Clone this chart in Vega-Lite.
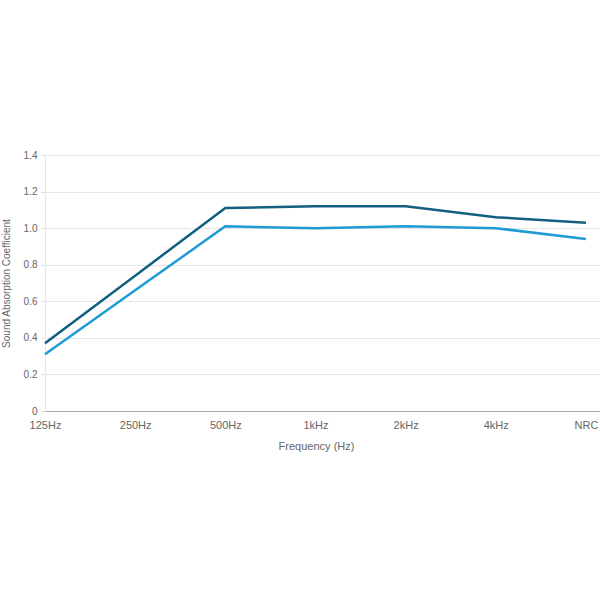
{
  "$schema": "https://vega.github.io/schema/vega-lite/v6.json",
  "autosize": "none",
  "width": 555,
  "height": 256,
  "padding": {"left": 45, "top": 155, "right": 0, "bottom": 189},
  "background": "white",
  "config": {
    "view": {"stroke": null},
    "font": "Liberation Sans"
  },
  "data": {
    "values": [
      {"freq": "125Hz", "series": "A", "value": 0.37},
      {"freq": "250Hz", "series": "A", "value": 0.74},
      {"freq": "500Hz", "series": "A", "value": 1.11},
      {"freq": "1kHz", "series": "A", "value": 1.12},
      {"freq": "2kHz", "series": "A", "value": 1.12},
      {"freq": "4kHz", "series": "A", "value": 1.06},
      {"freq": "NRC", "series": "A", "value": 1.03},
      {"freq": "125Hz", "series": "B", "value": 0.31},
      {"freq": "250Hz", "series": "B", "value": 0.66},
      {"freq": "500Hz", "series": "B", "value": 1.01},
      {"freq": "1kHz", "series": "B", "value": 1.0},
      {"freq": "2kHz", "series": "B", "value": 1.01},
      {"freq": "4kHz", "series": "B", "value": 1.0},
      {"freq": "NRC", "series": "B", "value": 0.94}
    ]
  },
  "mark": {"type": "line", "strokeWidth": 2.5, "interpolate": "linear"},
  "encoding": {
    "x": {
      "field": "freq",
      "type": "ordinal",
      "sort": ["125Hz", "250Hz", "500Hz", "1kHz", "2kHz", "4kHz", "NRC"],
      "scale": {"type": "point", "padding": 0.078, "align": 0},
      "axis": {
        "title": "Frequency (Hz)",
        "titleFont": "Liberation Sans",
        "titleFontSize": 11,
        "titleFontWeight": "normal",
        "titleColor": "#666666",
        "titlePadding": 10,
        "titleX": 271,
        "labelAngle": 0,
        "labelFontSize": 11,
        "labelColor": "#666666",
        "labelPadding": 8,
        "ticks": false,
        "domainColor": "#aaaaaa",
        "grid": false
      }
    },
    "y": {
      "field": "value",
      "type": "quantitative",
      "scale": {"domain": [0, 1.4]},
      "axis": {
        "title": "Sound Absorption Coefficient",
        "titleFont": "Liberation Sans",
        "titleFontSize": 10,
        "titleFontWeight": "normal",
        "titleColor": "#666666",
        "titlePadding": 12,
        "values": [0, 0.2, 0.4, 0.6, 0.8, 1.0, 1.2, 1.4],
        "labelExpr": "datum.value == 0 ? '0' : format(datum.value, '.1f')",
        "labelFontSize": 10,
        "labelColor": "#666666",
        "labelPadding": 4,
        "tickSize": 4,
        "tickColor": "#dddddd",
        "domainColor": "#e6e6e6",
        "gridColor": "#e6e6e6"
      }
    },
    "color": {
      "field": "series",
      "type": "nominal",
      "scale": {"domain": ["A", "B"], "range": ["#135f80", "#1e9bd7"]},
      "legend": null
    }
  }
}
